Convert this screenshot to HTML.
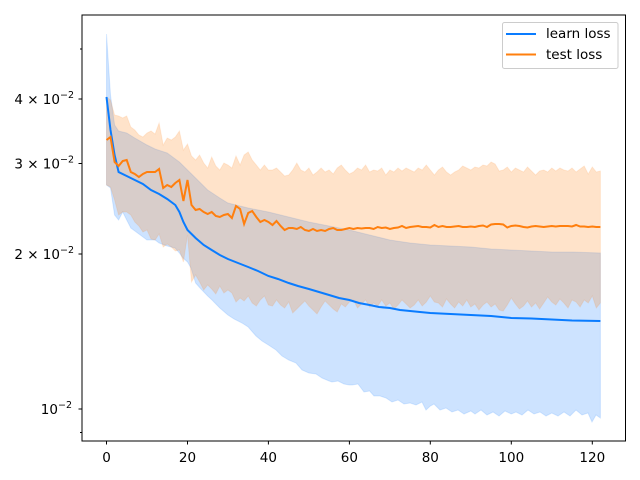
<!DOCTYPE html>
<html><head><meta charset="utf-8"><style>
body{margin:0;background:#fff}
svg{display:block;font-family:"DejaVu Sans","Liberation Sans",sans-serif}
</style></head><body>
<svg width="640" height="480" viewBox="0 0 640 480">
<rect width="640" height="480" fill="#fff"/>
<polygon fill="#1a80ff" fill-opacity="0.22" stroke="#1a80ff" stroke-opacity="0.15" points="
106.5,34 110.5,95 114.6,125 118.6,131 126.7,133 134.8,138 147,145 155.1,149 167.2,153 179.4,162 187.5,170 195.6,178 207.7,190 219.8,198 227.9,203 248.2,208 268.4,212 288.7,217 308.9,222 329.1,226 349.4,230 369.6,235 389.9,240 410.1,243 430.3,245 450.6,246 470.8,247 491.1,249 511.3,250 531.5,251 551.8,252 572,252 600.4,253
600.4,418 596,415 592,422 588,413 582,415 576,410 570,416 564,412 558,416 551.8,413 546,416 540,412 534,414 528,410 522,415 516,412 511.3,414 505,411 499,416 493,412 487,415 481,410 475,414 470.8,411 464,414 458,410 452,412 446,408 440,410 434,404 430.3,406 426,410 422,402 416,405 410.1,403 404,404 398,400 392,402 386,398 380,396 374,396 369.6,391 364,392 358,384 352,385 349.4,385 344,384 338,381 332,382 329.1,381 322,378 316,374 308.9,373 302,370 296,363 288.7,360 282,356 276,350 268.4,345 262,341 256,336 248.2,327 242,323 234,319 227.9,315 219.8,308 212,300 207.7,296 200,288 195.6,283 191,268 187.5,262 183,258 179.4,253 175,248 167.2,246 159.1,243 155.1,240 147,240 138.9,234 130.8,228 126.7,220 122.7,212 118.6,220 114.6,215 110.5,188 106.5,185"/>
<polygon fill="#ff7f0e" fill-opacity="0.22" stroke="#ff7f0e" stroke-opacity="0.12" points="
106.5,97 110.5,100 114.6,115 118.6,116 122.7,118 126.7,116 130.8,127 134.8,130 138.9,135 142.9,137 147,133 151,131 155.1,134 159.1,123 163.2,145 167.2,138 171.3,140 175.3,137 179.4,131 183.4,150 187.5,144 191.5,156 195.6,160 199.6,155 203.7,163 207.7,168 211.7,157 215.8,166 219.8,170 223.9,163 227.9,165 231.9,168 236,156 240.1,165 244.1,155 248.2,152 252.2,160 256.3,165 260.3,170 264.4,165 268.4,170 272.5,170 276.5,168 280.6,172 284.6,176 288.7,175 292.7,170 296.8,163 300.8,170 304.9,172 308.9,168 313,175 317,172 321.1,168 325.1,172 329.1,170 333.2,174 337.2,168 341.3,165 345.3,170 349.4,174 353.4,172 357.5,168 361.5,170 365.6,165 369.6,172 373.6,170 377.7,171 381.7,168 385.8,175 389.9,170 393.9,172 398,168 402,171 406.1,168 410.1,170 414.2,172 418.2,168 422.2,170 426.3,165 430.3,170 434.4,175 438.4,170 442.5,167 446.5,172 450.6,175 454.6,172 458.7,170 462.7,166 466.8,168 470.8,170 474.9,167 478.9,168 483,165 487,166 491.1,162 495.1,164 499.2,171 503.2,170 507.3,167 511.3,172 515.4,168 519.4,170 523.5,172 527.5,167 531.5,171 535.6,175 539.6,171 543.7,170 547.7,172 551.8,168 555.8,171 559.9,168 563.9,170 568,171 572,168 576.1,172 580.1,169 584.2,166 588.2,174 592.3,167 596.3,172 600.4,171
600.4,303 596.3,308 592.3,296 588.2,303 584.2,300 580.1,307 576.1,302 572,300 568,308 563.9,303 559.9,299 555.8,305 551.8,302 547.7,297 543.7,303 539.6,309 535.6,303 531.5,307 527.5,301 523.5,306 519.4,309 515.4,304 511.3,298 507.3,305 503.2,311 499.2,310 495.1,304 491.1,307 487,302 483,305 478.9,310 474.9,304 470.8,307 466.8,300 462.7,306 458.7,302 454.6,308 450.6,304 446.5,299 442.5,307 438.4,303 434.4,302 430.3,296 426.3,302 422.2,306 418.2,300 414.2,305 410.1,308 406.1,304 402,300 398,305 393.9,309 389.9,303 385.8,306 381.7,300 377.7,306 373.6,303 369.6,307 365.6,300 361.5,304 357.5,308 353.4,300 349.4,302 345.3,307 341.3,304 337.2,312 333.2,309 329.1,305 325.1,301 321.1,307 317,314 313,310 308.9,306 304.9,301 300.8,305 296.8,309 292.7,313 288.7,302 284.6,308 280.6,305 276.5,300 272.5,306 268.4,305 264.4,296 260.3,300 256.3,306 252.2,303 248.2,296 244.1,301 240.1,298 236,302 231.9,293 227.9,290 223.9,293 219.8,286 215.8,294 211.7,289 207.7,285 203.7,290 199.6,282 195.6,275 191.5,282 187.5,235 183.4,262 179.4,250 175.3,251 171.3,247 167.2,244 163.2,247 159.1,234 155.1,240 151,239 147,230 142.9,232 138.9,226 134.8,222 130.8,215 126.7,212 122.7,212 118.6,215 114.6,200 110.5,187 106.5,185"/>
<polyline fill="none" stroke="#0a7cff" stroke-width="2" points="106.5,97 110.5,130 114.6,155 118.6,172 126.7,176 134.8,180 142.9,184 151,190 159.1,194 167.2,199 175.3,205 179.4,212 183.4,222 187.5,230 195.6,238 203.7,245 211.7,250 219.8,255 227.9,259 238,263 248.2,267 258,271 268.4,276 278,279 288.7,283 298,286 308.9,289 319,292 329.1,295 339,298 349.4,300 359,303 369.6,305 379,307 389.9,308 400,310 410.1,311 420,312 430.3,313 450.6,314 470.8,315 491.1,316 511.3,318 531.5,318.5 551.8,319.5 572,320.5 600.4,321"/>
<polyline fill="none" stroke="#ff7f0e" stroke-width="2" points="106.5,140 110.5,137 114.6,162 118.6,166 122.7,161 126.7,160 130.8,172 134.8,174 138.9,177 142.9,174 147,172 151,172 155.1,172 159.1,169 163.2,188 167.2,185 171.3,187 175.3,183 179.4,180 183.4,201 187.5,180 191.5,205 195.6,210 199.6,209 203.7,212 207.7,214 211.7,212 215.8,216 219.8,217 223.9,215 227.9,214 231.9,218 236,206 240.1,209 244.1,224 248.2,213 252.2,211 256.3,217 260.3,222 264.4,220 268.4,222 272.5,225 276.5,221 280.6,226 284.6,230 288.7,228 292.7,228 296.8,229 300.8,227 304.9,230 308.9,231 313,229 317,231 321.1,230 325.1,231 329.1,229 333.2,228 337.2,230 341.3,230 345.3,229 349.4,228 353.4,229 357.5,228 361.5,228.5 365.6,228 369.6,228 373.6,229 377.7,227 381.7,228 385.8,227.5 389.9,229 393.9,228 398,227.5 402,226 406.1,228 410.1,227 414.2,226.5 418.2,226 422.2,227 426.3,227 430.3,227.5 434.4,225 438.4,227 442.5,226 446.5,227 450.6,227 454.6,226.5 458.7,226 462.7,227 466.8,227 470.8,226.5 474.9,227 478.9,226 483,225.5 487,227 491.1,224.5 495.1,224 499.2,224 503.2,224.5 507.3,227.5 511.3,226 515.4,225.5 519.4,226 523.5,227 527.5,227.5 531.5,226.5 535.6,226 539.6,226.5 543.7,227 547.7,226.5 551.8,226 555.8,226.5 559.9,226 563.9,226 568,226 572,226.5 576.1,225 580.1,226.5 584.2,226.5 588.2,227 592.3,226.5 596.3,227 600.4,227"/>
<rect x="82" y="15" width="543.5" height="426" fill="none" stroke="#000" stroke-width="1"/>
<g stroke="#000" stroke-width="1">
<line x1="82" y1="409" x2="78.5" y2="409"/><line x1="82" y1="254" x2="78.5" y2="254"/>
<line x1="82" y1="163.5" x2="78.5" y2="163.5"/><line x1="82" y1="99" x2="78.5" y2="99"/>
<line x1="82" y1="49" x2="80" y2="49"/><line x1="82" y1="432.5" x2="80" y2="432.5"/>
<line x1="106.5" y1="441" x2="106.5" y2="444.5"/><line x1="187.5" y1="441" x2="187.5" y2="444.5"/>
<line x1="268.4" y1="441" x2="268.4" y2="444.5"/><line x1="349.4" y1="441" x2="349.4" y2="444.5"/>
<line x1="430.3" y1="441" x2="430.3" y2="444.5"/><line x1="511.3" y1="441" x2="511.3" y2="444.5"/>
<line x1="592.3" y1="441" x2="592.3" y2="444.5"/>
</g>
<g font-size="13.5" fill="#000" text-anchor="middle">
<text x="106.5" y="462">0</text><text x="187.5" y="462">20</text><text x="268.4" y="462">40</text>
<text x="349.4" y="462">60</text><text x="430.3" y="462">80</text><text x="511.3" y="462">100</text><text x="592.3" y="462">120</text>
</g>
<g font-size="13.5" fill="#000" text-anchor="end">
<text x="72" y="414">10<tspan font-size="9.5" dy="-6">−2</tspan></text>
<text x="74" y="259">2 × 10<tspan font-size="9.5" dy="-6">−2</tspan></text>
<text x="74" y="168.5">3 × 10<tspan font-size="9.5" dy="-6">−2</tspan></text>
<text x="74" y="104">4 × 10<tspan font-size="9.5" dy="-6">−2</tspan></text>
</g>
<rect x="502.5" y="22.5" width="115.5" height="46" rx="2" fill="#fff" fill-opacity="0.8" stroke="#ccc"/>
<line x1="506" y1="34" x2="536" y2="34" stroke="#0a7cff" stroke-width="2"/>
<line x1="506" y1="54.5" x2="536" y2="54.5" stroke="#ff7f0e" stroke-width="2"/>
<text x="546" y="38" font-size="13.5" fill="#000">learn loss</text>
<text x="546" y="59" font-size="13.5" fill="#000">test loss</text>
</svg>
</body></html>
